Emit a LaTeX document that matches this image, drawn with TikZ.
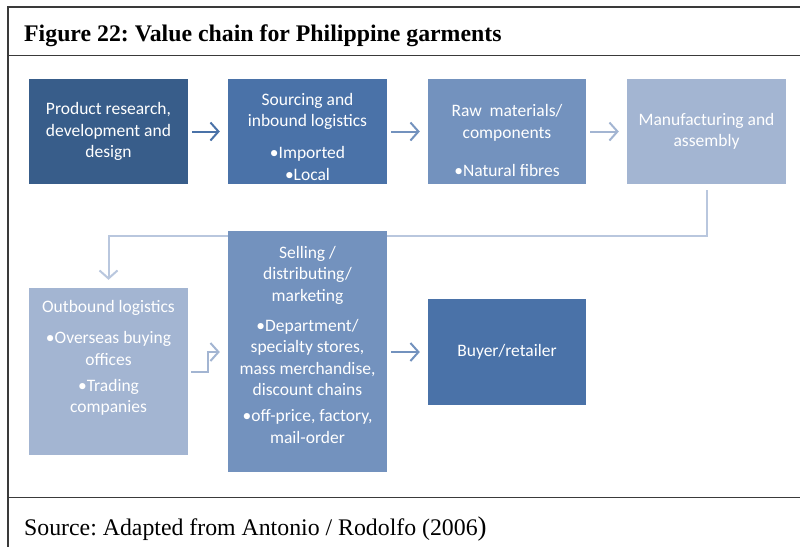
\documentclass[tikz,border=0pt]{standalone}
\usepackage{fontspec}
\setmainfont{Liberation Serif}
\newfontfamily\boxfont{Carlito}
\usetikzlibrary{arrows.meta,backgrounds}
\definecolor{cA}{HTML}{385D8A}
\definecolor{cB}{HTML}{4A72A8}
\definecolor{cC}{HTML}{7392BE}
\definecolor{cD}{HTML}{A3B5D2}
\definecolor{cE}{HTML}{B9C7DE}
\definecolor{framecol}{HTML}{3A3A3A}
\frenchspacing
\begin{document}
\begin{tikzpicture}[x=1pt,y=-1pt,
  box/.style={rectangle, draw=none, inner sep=0pt, minimum width=159pt},
  txt/.style={text=white, font=\boxfont\fontsize{17.5}{21.5}\selectfont, align=center, inner sep=0pt},
  flow/.style={line width=2pt, -{Straight Barb[length=8pt,width=18pt,line width=2pt]}},
  rulestyle/.style={line width=1.5pt, draw=framecol}]
\useasboundingbox (0,0) rectangle (800,547);
% frame
\draw[rulestyle] (8,7) -- (800,7);
\draw[rulestyle] (8,55.5) -- (800,55.5);
\draw[rulestyle] (8,497.5) -- (800,497.5);
\draw[rulestyle] (8,6.25) -- (8,547);
% titles
\node[anchor=base west, inner sep=0pt, font=\bfseries\fontsize{23.8}{28}\selectfont] (title) at (24,41) {Figure 22: Value chain for Philippine garments};
\node[anchor=base west, inner sep=0pt, font=\fontsize{23.8}{28}\selectfont] (src) at (24,535) {Source: Adapted from Antonio / Rodolfo (2006{\fontsize{27}{30}\selectfont)}};
% boxes
\node[box, fill=cA, minimum height=105pt] (b1) at (108.5,131.5) {};
\node[box, fill=cB, minimum height=105pt] (b2) at (307.5,131.5) {};
\node[box, fill=cC, minimum height=105pt, minimum width=158pt] (b3) at (507,131.5) {};
\node[box, fill=cD, minimum height=105pt] (b4) at (706.5,131.5) {};
\node[box, fill=cD, minimum height=167pt] (b5) at (108.5,371.5) {};
\node[box, fill=cC, minimum height=241pt] (b6) at (307.5,351.5) {};
\node[box, fill=cB, minimum height=106pt, minimum width=158pt] (b7) at (507,352) {};
% texts
\node[txt] (t1) at (108.5,131.5) {Product research,\\development and\\design};
\node[txt] (t2) at (307.5,136.5) {Sourcing and\\inbound logistics\\[10.5pt]•Imported\\•Local};
\node[txt] (t3) at (507,140.5) {Raw\ \ materials/\\components\\[16.5pt]•Natural fibres};
\node[txt] (t4) at (706.5,131.5) {Manufacturing and\\assembly};
\node[txt] (t5) at (108.5,358) {Outbound logistics\\[9.5pt]•Overseas buying\\offices\\[4.5pt]•Trading\\companies};
\node[txt] (t6) at (307.5,344.5) {Selling /\\distributing/\\marketing\\[8.5pt]•Department/\\specialty stores,\\mass merchandise,\\discount chains\\[4.5pt]•off-price, factory,\\mail-order};
\node[txt] (t7) at (507,352) {Buyer/retailer};
% connectors
\draw[flow, draw=cB, shorten <=4pt, shorten >=8pt] (b1) -- (b2);
\draw[flow, draw=cC, shorten <=4pt, shorten >=8pt] (b2) -- (b3);
\draw[flow, draw=cD, shorten <=4pt, shorten >=8pt] (b3) -- (b4);
\coordinate (turn) at (0,236);
\coordinate (e1) at (208,372);
\coordinate (e2) at (208,352);
\draw[flow, draw=cD, shorten <=3pt, shorten >=8pt] (b5.east |- e1) -- (e1) -- (e2) -- (b6.west |- e2);
\draw[flow, draw=cC, shorten <=4pt, shorten >=8pt] (b6.east |- b7) -- (b7.west);
\begin{scope}[on background layer]
\draw[flow, draw=cE, shorten <=6pt, shorten >=8pt] (b4.south) -- (b4.south |- turn) -- (b5.north |- turn) -- (b5.north);
\end{scope}
\end{tikzpicture}
\end{document}
